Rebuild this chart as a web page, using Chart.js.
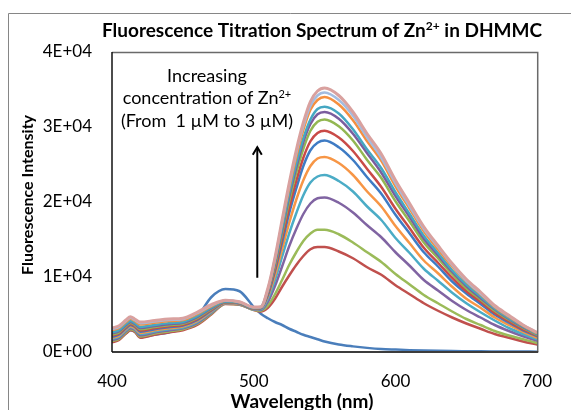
<!DOCTYPE html>
<html>
<head>
<meta charset="utf-8">
<script src="https://cdn.jsdelivr.net/npm/chart.js@4"></script>
<style>
  html,body{margin:0;padding:0;background:#fff;}
  #c{position:absolute;left:0;top:0;}
</style>
</head>
<body>
<canvas id="c" width="571" height="410"></canvas>
<script>
// ---- data ----
const WAVELENGTH = [400,405,410,413,416,420,430,440,450,460,470,480,490,500,505,510,515,520,525,530,535,540,545,550,560,570,580,590,600,610,620,630,640,650,660,670,680,690,700];

const ZN_0 = [1500,1800,2500,2900,2700,2000,2300,2600,3100,4600,7300,8400,8100,6000,5100,4500,4000,3600,3100,2700,2300,2000,1700,1400,1000,750,550,400,320,250,200,160,130,110,90,80,70,60,50];
const ZN_1 = [1300,1600,2500,2900,2700,1900,2300,2600,2900,3600,5000,6400,6300,5600,5400,5900,7100,8700,10200,11600,12800,13700,14000,14000,13400,12500,11300,10300,8900,7700,6500,5500,4600,3800,3100,2400,1900,1400,1000];
const ZN_2 = [1450,1750,2640,3040,2830,2060,2450,2740,3020,3730,5100,6440,6330,5630,5500,6200,7700,9600,11600,13300,14800,15800,16300,16300,15700,14600,13300,12000,10400,9000,7600,6500,5400,4400,3600,2800,2200,1700,1200];
const ZN_3 = [1590,1890,2780,3180,2960,2220,2590,2880,3150,3860,5200,6480,6360,5660,5600,6700,8800,11400,14100,16400,18400,19800,20500,20600,19900,18600,16900,15300,13300,11500,9600,8200,6800,5600,4600,3600,2800,2100,1500];
const ZN_4 = [1740,2040,2920,3320,3090,2390,2740,3020,3270,3990,5300,6520,6390,5690,5700,7100,9600,12700,15800,18500,20900,22600,23400,23600,22800,21400,19400,17600,15200,13200,11100,9500,7900,6500,5300,4200,3200,2400,1700];
const ZN_5 = [1890,2190,3050,3450,3220,2550,2890,3150,3390,4120,5400,6550,6420,5720,5800,7400,10200,13700,17200,20300,22900,24800,25800,26000,25200,23600,21400,19400,16800,14500,12200,10500,8700,7100,5900,4600,3600,2700,1900];
const ZN_6 = [2030,2330,3190,3590,3360,2710,3030,3290,3520,4250,5500,6590,6450,5750,5800,7600,10800,14600,18500,21800,24800,26900,27900,28200,27300,25600,23300,21100,18300,15800,13300,11400,9400,7800,6400,5000,3900,2900,2100];
const ZN_7 = [2180,2480,3330,3730,3490,2870,3180,3430,3640,4390,5600,6630,6480,5780,5900,7800,11100,15200,19200,22800,25900,28100,29200,29500,28600,26800,24400,22000,19100,16500,13900,11900,9900,8100,6700,5200,4100,3000,2200];
const ZN_8 = [2320,2620,3470,3870,3620,3030,3320,3570,3760,4510,5700,6670,6520,5820,5900,8000,11500,15800,20100,23900,27100,29500,30700,31000,30100,28200,25600,23200,20100,17400,14600,12500,10400,8500,7000,5500,4300,3200,2300];
const ZN_9 = [2470,2770,3610,4010,3750,3190,3470,3710,3880,4650,5800,6710,6550,5850,5900,8100,11800,16200,20700,24600,28000,30400,31700,32000,31100,29100,26500,23900,20800,18000,15100,12900,10700,8800,7200,5700,4400,3300,2400];
const ZN_10 = [2610,2910,3750,4150,3880,3350,3610,3850,4010,4780,5900,6750,6580,5880,6000,8200,12000,16500,21100,25100,28500,31000,32400,32700,31800,29700,27000,24500,21300,18400,15500,13200,10900,9000,7400,5800,4500,3400,2400];
const ZN_11 = [2910,3210,4020,4420,4140,3680,3910,4120,4250,5040,6100,6820,6640,5940,6000,8300,12300,17100,21800,26000,29600,32300,33600,34000,33000,30900,28100,25500,22100,19100,16100,13700,11400,9400,7700,6000,4700,3500,2500];
const ZN_12 = [3050,3350,4160,4560,4270,3840,4050,4260,4380,5170,6200,6860,6670,5970,6000,8400,12500,17300,22200,26500,30100,32800,34200,34600,33600,31500,28600,25900,22500,19400,16400,14000,11600,9500,7800,6100,4800,3600,2600];
const ZN_13 = [3200,3500,4300,4700,4400,4000,4200,4400,4500,5300,6300,6900,6700,6000,6000,8500,12600,17600,22500,26900,30600,33400,34800,35200,34200,32000,29100,26400,22900,19800,16700,14200,11800,9700,8000,6200,4900,3600,2600];

const SERIES = [ZN_0,ZN_1,ZN_2,ZN_3,ZN_4,ZN_5,ZN_6,ZN_7,ZN_8,ZN_9,ZN_10,ZN_11,ZN_12,ZN_13];

const X_TICKS = [400,500,600,700];
const Y_TICK_VALUES = [0,10000,20000,30000,40000];
const Y_TICK_LABELS = ['0E+00','1E+04','2E+04','3E+04','4E+04'];

// annotation (arrow from / to, in data units)
const ARROW_X = 502.5;
const ARROW_FROM = 9900;
const ARROW_TO = 27300;

// ---- styles ----
const COLORS = ['#4A7EBB','#C0504D','#9BBB59','#8064A2','#4BACC6','#F79646','#3E7BC4','#C94A47','#93B752','#7A5D9E','#45A7C2','#F58F3F','#A3BCE0','#D9A19F'];
const FAM = 'Lato, "DejaVu Sans", sans-serif';

Chart.defaults.font.family = FAM;

const datasets = SERIES.map((s, i) => ({
  label: 'S' + i,
  data: s.map((v, j) => ({x: WAVELENGTH[j], y: v})),
  borderColor: COLORS[i],
  backgroundColor: COLORS[i],
  borderWidth: i === SERIES.length - 1 ? 3 : 2.5,
  pointRadius: 0,
  cubicInterpolationMode: 'monotone',
  order: SERIES.length - i
}));

function drawRich(ctx, parts, x, y, size, weight, align) {
  const sup = Math.round(size * 0.62);
  let w = 0;
  parts.forEach(p => {
    ctx.font = `${weight} ${p.sup ? sup : size}px ${FAM}`;
    p.w = ctx.measureText(p.t).width;
    w += p.w;
  });
  let cx = align === 'center' ? x - w / 2 : x;
  ctx.textAlign = 'left';
  ctx.textBaseline = 'alphabetic';
  parts.forEach(p => {
    ctx.font = `${weight} ${p.sup ? sup : size}px ${FAM}`;
    ctx.fillText(p.t, cx, p.sup ? y - size * 0.36 : y);
    cx += p.w;
  });
}

const decor = {
  id: 'decor',
  beforeDraw(chart) {
    const ctx = chart.ctx;
    ctx.save();
    ctx.strokeStyle = '#868686';
    ctx.lineWidth = 1;
    ctx.beginPath();
    ctx.moveTo(8.5, 420); ctx.lineTo(8.5, 13.5); ctx.lineTo(600, 13.5);
    ctx.stroke();
    ctx.restore();
  },
  afterDraw(chart) {
    const ctx = chart.ctx, a = chart.chartArea;
    const xs = chart.scales.x, ys = chart.scales.y;
    ctx.save();
    // plot frame
    ctx.strokeStyle = '#6a6a6a'; ctx.lineWidth = 1.5;
    ctx.beginPath(); ctx.moveTo(a.left, a.top + 0.5); ctx.lineTo(a.right + 0.5, a.top + 0.5); ctx.lineTo(a.right + 0.5, a.bottom); ctx.stroke();
    ctx.strokeStyle = '#3c3c3c'; ctx.lineWidth = 2;
    ctx.beginPath(); ctx.moveTo(a.left, a.bottom); ctx.lineTo(a.right + 1, a.bottom); ctx.stroke();
    ctx.strokeStyle = '#111'; ctx.lineWidth = 1.5;
    ctx.beginPath(); ctx.moveTo(a.left, a.top); ctx.lineTo(a.left, a.bottom); ctx.stroke();

    // arrow
    const ax = xs.getPixelForValue(ARROW_X);
    const y0 = ys.getPixelForValue(ARROW_FROM), y1 = ys.getPixelForValue(ARROW_TO);
    ctx.strokeStyle = '#000'; ctx.lineWidth = 2;
    ctx.beginPath(); ctx.moveTo(ax, y0); ctx.lineTo(ax, y1); ctx.stroke();
    ctx.beginPath(); ctx.moveTo(ax - 4.5, y1 + 7.5); ctx.lineTo(ax, y1); ctx.lineTo(ax + 4.5, y1 + 7.5); ctx.stroke();

    ctx.fillStyle = '#000';
    // annotation text
    const tx = xs.getPixelForValue(467);
    drawRich(ctx, [{t:'Increasing'}], tx, ys.getPixelForValue(36000), 18, 'normal', 'center');
    drawRich(ctx, [{t:'concentration of Zn'},{t:'2+',sup:true}], tx, ys.getPixelForValue(33050), 18, 'normal', 'center');
    drawRich(ctx, [{t:'(From  1 \u00B5M to 3 \u00B5M)'}], tx, ys.getPixelForValue(30000), 18, 'normal', 'center');

    // chart title
    drawRich(ctx, [{t:'Fluorescence Titration Spectrum of Zn'},{t:'2+',sup:true},{t:' in DHMMC'}], 322, 37, 19, 'bold', 'center');
    // x axis title
    drawRich(ctx, [{t:'Wavelength (nm)'}], 302, 408, 19, 'bold', 'center');
    // y axis title
    ctx.save();
    ctx.translate(33, 195);
    ctx.rotate(-Math.PI / 2);
    drawRich(ctx, [{t:'Fluorescence Intensity'}], 0, 0, 16, 'bold', 'center');
    ctx.restore();
    ctx.restore();
  }
};

new Chart(document.getElementById('c'), {
  type: 'line',
  data: { datasets },
  plugins: [decor],
  options: {
    responsive: false,
    animation: false,
    devicePixelRatio: 1,
    layout: { padding: { left: 0, right: 23, top: 52, bottom: 0 } },
    plugins: { legend: { display: false }, title: { display: false }, tooltip: { enabled: false } },
    scales: {
      x: {
        type: 'linear', min: 400, max: 700,
        grid: { display: false, drawTicks: false },
        border: { display: false },
        afterBuildTicks: s => { s.ticks = X_TICKS.map(v => ({ value: v })); },
        afterFit: s => { s.height = 58; },
        ticks: { padding: 19, color: '#000', font: { size: 17 }, maxRotation: 0, callback: v => String(v) }
      },
      y: {
        min: 0, max: 40000,
        grid: { display: false, drawTicks: false },
        border: { display: false },
        afterBuildTicks: s => { s.ticks = Y_TICK_VALUES.map(v => ({ value: v })); },
        afterFit: s => { s.width = 112; },
        ticks: { padding: 20, color: '#000', font: { size: 17 },
          callback: v => Y_TICK_LABELS[Y_TICK_VALUES.indexOf(v)] }
      }
    }
  }
});
</script>
</body>
</html>
